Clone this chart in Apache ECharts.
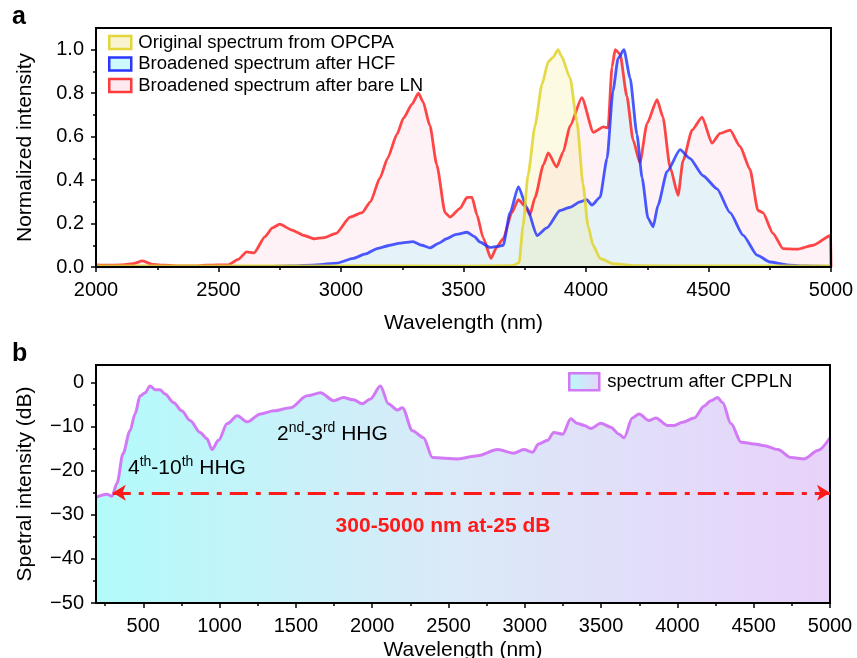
<!DOCTYPE html>
<html>
<head>
<meta charset="utf-8">
<script src="https://cdn.jsdelivr.net/npm/echarts@6/dist/echarts.min.js"></script>
<style>
html,body{margin:0;padding:0;background:#fff;}
#chart{width:857px;height:658px;}
</style>
</head>
<body>
<div id="chart"></div>
<script>
// panel a: [wavelength nm, normalized intensity]
const opcpa = [[2000,0.005],[2500,0.005],[3000,0.005],[3500,0.004],[3700,0.006],[3727,0.02],[3743,0.19],[3763,0.42],[3792,0.65],[3820,0.84],[3846,0.945],[3865,0.965],[3886,1.0],[3900,0.97],[3935,0.87],[3963,0.67],[3988,0.38],[4008,0.19],[4029,0.10],[4057,0.04],[4110,0.015],[4200,0.006],[4500,0.005],[5000,0.005]];
const hcf = [[2000,0.001],[2500,0.002],[2700,0.003],[2800,0.005],[2900,0.01],[2983,0.018],[3050,0.04],[3100,0.06],[3147,0.085],[3200,0.1],[3241,0.11],[3294,0.117],[3330,0.1],[3363,0.088],[3400,0.11],[3431,0.13],[3470,0.15],[3514,0.16],[3545,0.14],[3567,0.115],[3608,0.09],[3640,0.095],[3662,0.1],[3690,0.25],[3724,0.37],[3758,0.275],[3800,0.145],[3840,0.18],[3894,0.26],[3935,0.275],[3975,0.30],[4003,0.31],[4024,0.285],[4057,0.32],[4086,0.50],[4110,0.81],[4131,0.96],[4155,1.0],[4180,0.87],[4208,0.61],[4229,0.41],[4253,0.225],[4274,0.185],[4294,0.285],[4331,0.44],[4384,0.54],[4424,0.50],[4478,0.42],[4535,0.36],[4588,0.25],[4641,0.147],[4698,0.055],[4751,0.023],[4820,0.01],[4886,0.005],[5000,0.003]];
const bareLN = [[2000,0.01],[2050,0.008],[2100,0.01],[2150,0.015],[2190,0.028],[2230,0.012],[2280,0.008],[2350,0.005],[2400,0.005],[2450,0.008],[2500,0.01],[2540,0.01],[2580,0.035],[2615,0.07],[2645,0.065],[2690,0.14],[2720,0.18],[2750,0.197],[2800,0.17],[2850,0.145],[2890,0.13],[2930,0.135],[2980,0.155],[3037,0.23],[3086,0.25],[3120,0.3],[3159,0.41],[3190,0.5],[3228,0.61],[3255,0.685],[3290,0.75],[3316,0.80],[3335,0.76],[3363,0.65],[3391,0.47],[3425,0.25],[3445,0.23],[3486,0.27],[3514,0.32],[3535,0.32],[3555,0.24],[3580,0.135],[3612,0.04],[3635,0.09],[3662,0.13],[3697,0.25],[3724,0.31],[3751,0.28],[3771,0.24],[3792,0.32],[3826,0.47],[3846,0.525],[3880,0.46],[3907,0.53],[3935,0.65],[3983,0.78],[4030,0.62],[4071,0.645],[4090,0.64],[4106,0.92],[4119,1.0],[4139,0.98],[4167,0.785],[4192,0.585],[4220,0.48],[4249,0.66],[4290,0.77],[4314,0.69],[4343,0.46],[4376,0.33],[4396,0.49],[4433,0.63],[4474,0.69],[4514,0.57],[4547,0.615],[4588,0.63],[4629,0.555],[4669,0.45],[4702,0.26],[4722,0.25],[4763,0.155],[4804,0.085],[4861,0.082],[4927,0.1],[4998,0.145],[5000,0]];
const xTicksA = [2000,2500,3000,3500,4000,4500,5000];
const xMinorA = [2250,2750,3250,3750,4250,4750];
const yTicksA = [0,0.2,0.4,0.6,0.8,1.0];
const yMinorA = [0.1,0.3,0.5,0.7,0.9];

// panel b: [wavelength nm, dB]
const cppln = [[190,-26.0],[262,-25.3],[295,-25.8],[328,-22.8],[367,-16.1],[413,-10.9],[446,-7.1],[479,-3.0],[512,-2.3],[544,-0.75],[577,-1.6],[610,-1.6],[643,-2.6],[698,-4.5],[752,-6.4],[807,-8.6],[872,-11.3],[917,-12.7],[950,-15.2],[993,-13.1],[1050,-9.3],[1116,-7.5],[1181,-8.9],[1268,-7.1],[1356,-6.4],[1465,-5.7],[1574,-3.0],[1661,-2.3],[1749,-4.1],[1811,-3.4],[1877,-3.9],[1935,-4.8],[1988,-3.7],[2054,-0.75],[2106,-4.8],[2165,-6.2],[2198,-5.7],[2264,-10.9],[2336,-12.5],[2395,-17.0],[2559,-17.3],[2690,-16.6],[2822,-15.2],[2927,-16.0],[2993,-15.2],[3051,-15.8],[3090,-13.9],[3150,-13.1],[3189,-11.3],[3248,-11.7],[3301,-8.2],[3346,-9.3],[3390,-9.7],[3433,-10.4],[3498,-9.2],[3563,-10.1],[3617,-11.7],[3650,-12.5],[3705,-8.0],[3749,-7.1],[3814,-8.6],[3858,-8.0],[3935,-9.7],[3979,-9.7],[4034,-9.0],[4110,-8.0],[4176,-5.3],[4219,-4.1],[4263,-3.4],[4296,-4.5],[4351,-9.3],[4417,-13.5],[4504,-13.9],[4570,-14.3],[4658,-15.2],[4745,-17.0],[4832,-17.3],[4920,-15.4],[5000,-12.5]];
const rangeLine = [300, 5000, -25];
const xTicksB = [500,1000,1500,2000,2500,3000,3500,4000,4500,5000];
const xMinorB = [250,750,1250,1750,2250,2750,3250,3750,4250,4750];
const yTicksB = [-50,-40,-30,-20,-10,0];
const yMinorB = [-45,-35,-25,-15,-5];

const FONT = 'Liberation Sans, Arial, Helvetica, sans-serif';
const chart = echarts.init(document.getElementById('chart'));

function minus(v){ return String(v).replace('-', '\u2212'); }

function axisPair(type, grid, min, max, major, minor, extra){
  const main = Object.assign({
    type: 'value', gridIndex: grid, min: min, max: max,
    axisLine: {show: false, onZero: false},
    axisTick: {show: true, inside: false, length: 5, customValues: major, lineStyle: {color: '#000', width: 1.5}},
    splitLine: {show: false}
  }, extra || {});
  const sub = {
    type: 'value', gridIndex: grid, min: min, max: max,
    position: type === 'x' ? 'bottom' : 'left',
    axisLine: {show: false, onZero: false},
    axisTick: {show: true, inside: false, length: 3, customValues: minor, lineStyle: {color: '#000', width: 1.5}},
    axisLabel: {show: false},
    splitLine: {show: false}
  };
  return [main, sub];
}

const nameStyle = {color: '#000', fontFamily: FONT, fontSize: 21};
const xa = axisPair('x', 0, 2000, 5000, xTicksA, xMinorA, {
  position: 'bottom', name: 'Wavelength (nm)', nameLocation: 'middle', nameGap: 46, nameTextStyle: nameStyle,
  axisLabel: {customValues: xTicksA, color: '#000', fontFamily: FONT, fontSize: 20, margin: 13, formatter: v => String(v)}
});
const ya = axisPair('y', 0, 0, 1.1, yTicksA, yMinorA, {
  position: 'left', name: 'Normalized intensity', nameLocation: 'middle', nameGap: 60, nameTextStyle: nameStyle,
  axisLabel: {customValues: yTicksA, color: '#000', fontFamily: FONT, fontSize: 20, margin: 12, formatter: v => v.toFixed(1)}
});
const xb = axisPair('x', 1, 190, 5000, xTicksB, xMinorB, {
  position: 'bottom', name: 'Wavelength (nm)', nameLocation: 'middle', nameGap: 37, nameTextStyle: nameStyle,
  axisLabel: {customValues: xTicksB, color: '#000', fontFamily: FONT, fontSize: 20, margin: 13, formatter: v => String(v)}
});
const yb = axisPair('y', 1, -50, 4, yTicksB, yMinorB, {
  position: 'left', name: 'Spetral intensity (dB)', nameLocation: 'middle', nameGap: 60, nameTextStyle: nameStyle,
  axisLabel: {customValues: yTicksB, color: '#000', fontFamily: FONT, fontSize: 20, margin: 12, formatter: v => minus(v)}
});

const bGrad = new echarts.graphic.LinearGradient(0, 0, 1, 0, [
  {offset: 0, color: '#b2fbfb'},
  {offset: 0.5, color: '#dbe9f8'},
  {offset: 1, color: '#e8d2fa'}
]);
const legGrad = new echarts.graphic.LinearGradient(0, 0, 1, 0, [
  {offset: 0, color: '#b8fbfb'},
  {offset: 1, color: '#e6d4f8'}
]);

const richHHG = {
  n: {fontSize: 21, fontFamily: FONT, fill: '#000', lineHeight: 24, verticalAlign: 'bottom'},
  s: {fontSize: 14, fontFamily: FONT, fill: '#000', lineHeight: 14, verticalAlign: 'top'}
};

chart.setOption({
  animation: false,
  grid: [
    {left: 96, right: 26, top: 28, height: 239, show: true, borderColor: '#000', borderWidth: 2, z: 5, outerBoundsMode: 'none'},
    {left: 96, right: 27, top: 365, height: 238, show: true, borderColor: '#000', borderWidth: 2, z: 5, outerBoundsMode: 'none'}
  ],
  xAxis: [xa[0], xa[1], xb[0], xb[1]].map((a, i) => Object.assign(a, {gridIndex: i < 2 ? 0 : 1})),
  yAxis: [ya[0], ya[1], yb[0], yb[1]].map((a, i) => Object.assign(a, {gridIndex: i < 2 ? 0 : 1})),
  legend: [
    {
      left: 103, top: 28, orient: 'vertical', icon: 'rect', itemWidth: 22, itemHeight: 13, itemGap: 2.5,
      textStyle: {color: '#000', fontFamily: FONT, fontSize: 18.5, padding: [0, 0, 0, 2]},
      data: [
        {name: 'Original spectrum from OPCPA', itemStyle: {color: '#f8f4d2', borderColor: '#e3d63a', borderWidth: 2.5}},
        {name: 'Broadened spectrum after HCF', itemStyle: {color: '#cdf8fc', borderColor: '#2a36ff', borderWidth: 2.5}},
        {name: 'Broadened spectrum after bare LN', itemStyle: {color: '#fde9ef', borderColor: '#ff3a3a', borderWidth: 2.5}}
      ]
    },
    {
      left: 563, top: 367, orient: 'vertical', icon: 'rect', itemWidth: 30, itemHeight: 17,
      textStyle: {color: '#000', fontFamily: FONT, fontSize: 18.5, padding: [0, 0, 0, 3]},
      data: [{name: 'spectrum after CPPLN', itemStyle: {color: legGrad, borderColor: '#d27af5', borderWidth: 2.5}}]
    }
  ],
  graphic: [
    {type: 'text', left: 12, top: 5, z: 100, style: {text: 'a', font: 'bold 25px ' + FONT, fill: '#000'}},
    {type: 'text', left: 12, top: 342, z: 100, style: {text: 'b', font: 'bold 25px ' + FONT, fill: '#000'}},
    {type: 'text', x: 128, y: 467, z: 100, style: {
      text: '{n|4}{s|th}{n|-10}{s|th}{n| HHG}', verticalAlign: 'middle', rich: richHHG
    }},
    {type: 'text', x: 277, y: 433, z: 100, style: {
      text: '{n|2}{s|nd}{n|-3}{s|rd}{n| HHG}', verticalAlign: 'middle', rich: richHHG
    }},
    {type: 'text', x: 443, y: 526, z: 100, style: {
      text: '300-5000 nm at-25 dB', font: 'bold 21px ' + FONT, fill: '#ff1a1a',
      align: 'center', verticalAlign: 'middle'
    }}
  ],
  series: [
    {
      name: 'Broadened spectrum after bare LN', type: 'line', xAxisIndex: 0, yAxisIndex: 0,
      data: bareLN, showSymbol: false, smooth: 0.2, smoothMonotone: 'x',
      lineStyle: {color: '#ff2626', width: 2.8, opacity: 0.85},
      itemStyle: {color: '#ff2626'},
      areaStyle: {color: 'rgba(255,190,215,0.28)', origin: 'start'}
    },
    {
      name: 'Broadened spectrum after HCF', type: 'line', xAxisIndex: 0, yAxisIndex: 0,
      data: hcf, showSymbol: false, smooth: 0.2, smoothMonotone: 'x',
      lineStyle: {color: '#1f30ff', width: 2.8, opacity: 0.8},
      itemStyle: {color: '#1f30ff'},
      areaStyle: {color: 'rgba(150,238,250,0.35)', origin: 'start'}
    },
    {
      name: 'Original spectrum from OPCPA', type: 'line', xAxisIndex: 0, yAxisIndex: 0,
      data: opcpa, showSymbol: false, smooth: 0.2, smoothMonotone: 'x',
      lineStyle: {color: '#e0d42c', width: 2.8, opacity: 0.85},
      itemStyle: {color: '#e0d42c'},
      areaStyle: {color: 'rgba(240,230,110,0.28)', origin: 'start'}
    },
    {
      name: 'spectrum after CPPLN', type: 'line', xAxisIndex: 2, yAxisIndex: 2,
      data: cppln, showSymbol: false, smooth: 0.3, smoothMonotone: 'x',
      lineStyle: {color: '#d27af5', width: 3},
      itemStyle: {color: '#d27af5'},
      areaStyle: {color: bGrad, origin: 'start', opacity: 1},
      markLine: {
        silent: true, symbol: ['arrow', 'arrow'], symbolSize: [12, 13],
        label: {show: false},
        lineStyle: {color: '#ff1a1a', width: 3, type: [18, 8, 5, 8]},
        data: [[{coord: [rangeLine[0], rangeLine[2]]}, {coord: [rangeLine[1], rangeLine[2]]}]]
      }
    }
  ]
});
</script>
</body>
</html>
